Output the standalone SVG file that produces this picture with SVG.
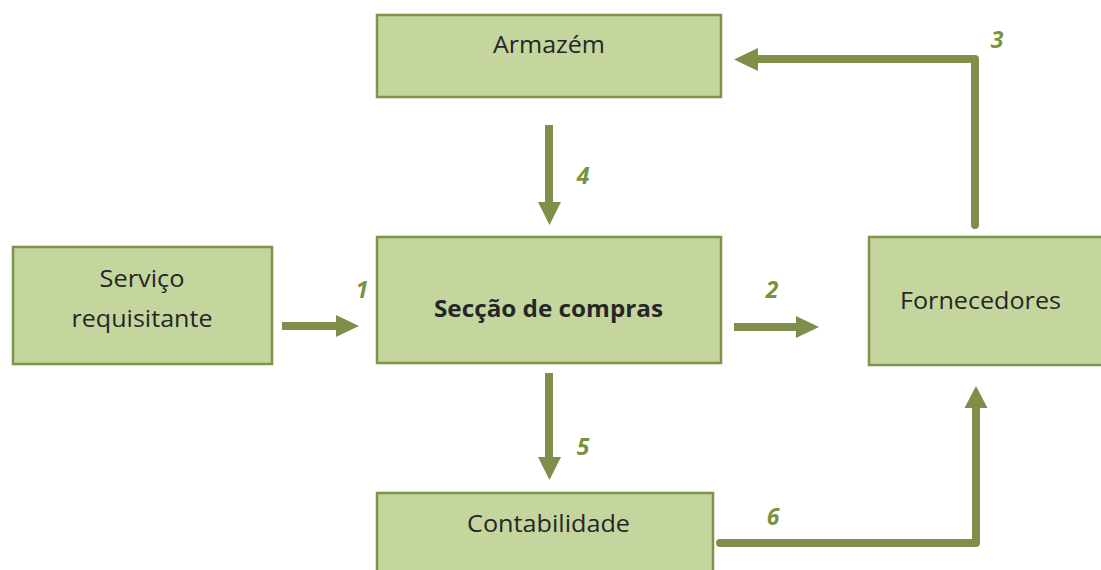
<svg xmlns="http://www.w3.org/2000/svg" width="1101" height="570" viewBox="0 0 1101 570">
<defs>
<style>
.box{fill:#c4d69e;stroke:#7e944a;stroke-width:2.5}
.t{font-family:"Open Sans","Liberation Sans",sans-serif;font-size:23.5px;fill:#262626;text-anchor:middle}
.b{font-weight:bold}
.ln{fill:none;stroke:#7f8f4a;stroke-width:8}
.hd{fill:#7f8f4a}
.lb{font-family:"Open Sans","Liberation Sans",sans-serif;font-size:23px;font-weight:bold;font-style:italic;fill:#77933c;text-anchor:middle}
</style>
</defs>
<rect width="1101" height="570" fill="#ffffff"/>
<g id="armazem">
<rect class="box" x="377" y="15" width="344" height="82"/>
<text class="t" x="549" y="53" textLength="112" lengthAdjust="spacingAndGlyphs">Armazém</text>
</g>
<g id="servico">
<rect class="box" x="13" y="247" width="259" height="117"/>
<text class="t" x="142" y="287" textLength="85" lengthAdjust="spacingAndGlyphs">Serviço</text>
<text class="t" x="142" y="327" textLength="141" lengthAdjust="spacingAndGlyphs">requisitante</text>
</g>
<g id="seccao">
<rect class="box" x="377" y="237" width="344" height="126"/>
<text class="t b" x="548.5" y="317" textLength="229" lengthAdjust="spacingAndGlyphs">Secção de compras</text>
</g>
<g id="fornecedores">
<rect class="box" x="869" y="237" width="240" height="128"/>
<text class="t" x="980.5" y="309" textLength="161" lengthAdjust="spacingAndGlyphs">Fornecedores</text>
</g>
<g id="contabilidade">
<rect class="box" x="377" y="493" width="336" height="90"/>
<text class="t" x="548.5" y="532" textLength="163" lengthAdjust="spacingAndGlyphs">Contabilidade</text>
</g>
<g id="connectors">
<line class="ln" x1="282" y1="326" x2="337" y2="326"/>
<polygon class="hd" points="336,315 359,326 336,337"/>
<line class="ln" x1="734" y1="327" x2="797" y2="327"/>
<polygon class="hd" points="796,316 819,327 796,338"/>
<path class="ln" d="M975,225 V59 H757" stroke-linecap="round" stroke-linejoin="round"/>
<polygon class="hd" points="758,48 734,59.5 758,71"/>
<line class="ln" x1="549" y1="125" x2="549" y2="203"/>
<polygon class="hd" points="538,202 561,202 549.5,225"/>
<line class="ln" x1="549" y1="373" x2="549" y2="458"/>
<polygon class="hd" points="538,457 561,457 549.5,480"/>
<path class="ln" d="M720,543 H976 V407" stroke-linecap="round" stroke-linejoin="round"/>
<polygon class="hd" points="964.5,408 987.5,408 976,386"/>
</g>
<g id="labels">
<text class="lb" x="362" y="298">1</text>
<text class="lb" x="772" y="298">2</text>
<text class="lb" x="997" y="48">3</text>
<text class="lb" x="583" y="184">4</text>
<text class="lb" x="583" y="455">5</text>
<text class="lb" x="773" y="525">6</text>
</g>
</svg>
